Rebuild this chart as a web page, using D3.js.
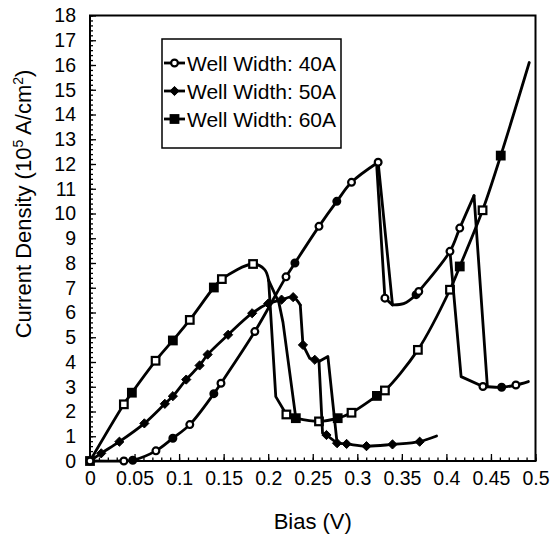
<!DOCTYPE html>
<html>
<head>
<meta charset="utf-8">
<script src="https://cdn.jsdelivr.net/npm/d3@7"></script>
<style>
  html, body { margin: 0; padding: 0; background: #fff; }
  svg { display: block; }
  text { font-family: "Liberation Sans", Arial, Helvetica, sans-serif; fill: #000; }
</style>
</head>
<body>
<svg id="chart" width="553" height="535"></svg>
<script>
// ---------- DATA (bias V, current density 1e5 A/cm2, marker: 0 none, 1 open, 2 filled) ----------
const xTickLabels = [0, 0.05, 0.1, 0.15, 0.2, 0.25, 0.3, 0.35, 0.4, 0.45, 0.5];
const yTickLabels = [0, 1, 2, 3, 4, 5, 6, 7, 8, 9, 10, 11, 12, 13, 14, 15, 16, 17, 18];
const seriesNames = ["Well Width: 40A", "Well Width: 50A", "Well Width: 60A"];

// Well width 40A
const w40Rise = [[0,0,1],[0.038,0.0,1],[0.048,0.03,2],[0.074,0.41,1],[0.093,0.92,2],[0.112,1.47,1],
  [0.139,2.72,2],[0.147,3.14,1],[0.185,5.23,1],[0.220,7.44,1],[0.230,8.0,2],[0.257,9.48,1],
  [0.277,10.49,2],[0.2935,11.26,1],[0.3234,12.07,1]];
const w40DropA = [[0.3234,12.07,0],[0.3395,6.31,0]];
const w40DropB = [[0.3216,12.04,0],[0.331,6.58,1],[0.3395,6.31,0]];
const w40Valley = [[0.3395,6.31,0],[0.352,6.36,0],[0.366,6.72,2],[0.369,6.85,1],[0.404,8.47,1],
  [0.415,9.41,1],[0.431,10.72,0]];
const w40DropC = [[0.431,10.72,0],[0.446,3.0,0]];
const w40DropD = [[0.404,8.47,0],[0.4165,3.41,0],[0.441,3.01,0]];
const w40Tail = [[0.441,3.01,1],[0.462,2.98,2],[0.478,3.07,1],[0.492,3.21,0]];

// Well width 50A
const w50Rise = [[0,0,0],[0.0126,0.31,1],[0.033,0.78,1],[0.061,1.52,1],[0.084,2.31,1],[0.093,2.62,1],
  [0.108,3.29,1],[0.123,3.86,1],[0.132,4.30,1],[0.155,5.10,1],[0.182,5.97,1],[0.200,6.36,1],
  [0.215,6.52,1],[0.228,6.62,1],[0.236,6.30,0]];
const w50Drop = [[0.236,6.30,0],[0.239,4.69,1],[0.2466,4.15,0],[0.2523,4.09,1],[0.257,4.02,0]];
const w50DropA = [[0.257,4.02,0],[0.261,1.12,0],[0.2654,1.05,1],[0.2773,0.72,0]];
const w50DropB = [[0.257,4.02,0],[0.267,4.22,0],[0.2773,0.72,0]];
const w50Tail = [[0.2773,0.72,1],[0.288,0.69,1],[0.3103,0.60,1],[0.3395,0.67,1],[0.370,0.78,1],[0.389,1.01,0]];

// Well width 60A
const w60Rise = [[0,0,2],[0.038,2.29,1],[0.047,2.76,2],[0.0736,4.05,1],[0.093,4.87,2],[0.112,5.70,1],
  [0.139,7.01,2],[0.148,7.35,1],[0.183,7.96,1],[0.196,7.73,0],[0.2005,7.3,0]];
const w60DropA = [[0.2005,7.3,0],[0.2085,2.6,0],[0.2204,1.88,1],[0.231,1.73,0]];
const w60DropB = [[0.2005,7.3,0],[0.212,6.4,0],[0.2166,5.6,0],[0.231,1.73,0]];
const w60Tail = [[0.231,1.73,2],[0.257,1.60,1],[0.278,1.73,2],[0.2935,1.95,1],[0.322,2.63,2],
  [0.331,2.85,1],[0.368,4.49,1],[0.404,6.92,1],[0.415,7.86,2],[0.4406,10.13,1],[0.461,12.34,2],[0.493,16.1,0]];

// ---------- CHART ----------
const series = [
  { name: seriesNames[2], shape: "square", pieces: [
      { pts: w60Rise, smooth: true }, { pts: w60DropA, smooth: false },
      { pts: w60DropB, smooth: false }, { pts: w60Tail, smooth: true } ] },
  { name: seriesNames[1], shape: "diamond", pieces: [
      { pts: w50Rise, smooth: true }, { pts: w50Drop, smooth: false },
      { pts: w50DropA, smooth: false }, { pts: w50DropB, smooth: false }, { pts: w50Tail, smooth: true } ] },
  { name: seriesNames[0], shape: "circle", pieces: [
      { pts: w40Rise, smooth: true }, { pts: w40DropA, smooth: false }, { pts: w40DropB, smooth: false },
      { pts: w40Valley, smooth: true }, { pts: w40DropC, smooth: false }, { pts: w40DropD, smooth: false },
      { pts: w40Tail, smooth: true } ] }
];

const svg = d3.select("#chart");
svg.append("rect").attr("width", 553).attr("height", 535).attr("fill", "#fff");

const plot = { left: 90, right: 535.5, top: 15.5, bottom: 461 };
const x = d3.scaleLinear().domain([0, 0.5]).range([plot.left, plot.right]);
const y = d3.scaleLinear().domain([0, 18]).range([plot.bottom, plot.top]);

// minor ticks
const xMinor = d3.range(0, 51).map(i => i / 100);
const yMinor = d3.range(0, 91).map(i => i / 5);

const xAxisMinor = d3.axisBottom(x).tickValues(xMinor).tickSize(-3.5).tickSizeOuter(0).tickFormat("");
const xAxisMajor = d3.axisBottom(x).tickValues(xTickLabels).tickSize(-7).tickSizeOuter(0).tickPadding(10)
  .tickFormat(d => String(+d.toFixed(2)));
const yAxisMinor = d3.axisLeft(y).tickValues(yMinor).tickSize(-3).tickSizeOuter(0).tickFormat("");
const yAxisMajor = d3.axisLeft(y).tickValues(yTickLabels).tickSize(-6).tickSizeOuter(0).tickPadding(14)
  .tickFormat(d => String(d));

function styleAxis(g) {
  g.select(".domain").remove();
  g.selectAll(".tick line").attr("stroke", "#000").attr("stroke-width", 1.3);
  g.selectAll(".tick text").attr("font-size", 19.5).attr("fill", "#000")
    .attr("font-family", "\"Liberation Sans\", Arial, sans-serif");
}
svg.append("g").attr("transform", `translate(0,${plot.bottom})`).call(xAxisMinor).call(styleAxis);
svg.append("g").attr("transform", `translate(0,${plot.bottom})`).call(xAxisMajor).call(styleAxis);
svg.append("g").attr("transform", `translate(${plot.left},0)`).call(yAxisMinor).call(styleAxis);
svg.append("g").attr("transform", `translate(${plot.left},0)`).call(yAxisMajor).call(styleAxis);

// frame
svg.append("rect")
  .attr("x", plot.left).attr("y", plot.top)
  .attr("width", plot.right - plot.left).attr("height", plot.bottom - plot.top)
  .attr("fill", "none").attr("stroke", "#000").attr("stroke-width", 2);

// axis titles
svg.append("text").attr("x", (plot.left + plot.right) / 2 + 0).attr("y", 529)
  .attr("text-anchor", "middle").attr("font-size", 22).text("Bias (V)");

const yt = svg.append("text")
  .attr("transform", "translate(31,204) rotate(-90)")
  .attr("text-anchor", "middle").attr("font-size", 22);
yt.append("tspan").text("Current Density (10");
yt.append("tspan").attr("dy", -8).attr("font-size", 14).text("5");
yt.append("tspan").attr("dy", 8).text(" A/cm");
yt.append("tspan").attr("dy", -8).attr("font-size", 14).text("2");
yt.append("tspan").attr("dy", 8).text(")");

// markers
function drawMarker(g, shape, cx, cy, filled) {
  const fill = filled ? "#000" : "#fff";
  if (shape === "circle") {
    g.append("circle").attr("cx", cx).attr("cy", cy).attr("r", 3.4)
      .attr("fill", fill).attr("stroke", "#000").attr("stroke-width", 2.2);
  } else if (shape === "square") {
    g.append("rect").attr("x", cx - 3.8).attr("y", cy - 3.8).attr("width", 7.6).attr("height", 7.6)
      .attr("fill", fill).attr("stroke", "#000").attr("stroke-width", 2.2);
  } else {
    const r = 4.6;
    g.append("path").attr("d", `M${cx},${cy - r}L${cx + r},${cy}L${cx},${cy + r}L${cx - r},${cy}Z`)
      .attr("fill", "#000").attr("stroke", "#000").attr("stroke-width", 1);
  }
}

const lineSmooth = d3.line().x(d => x(d[0])).y(d => y(d[1])).curve(d3.curveCatmullRom.alpha(0.5));
const lineStraight = d3.line().x(d => x(d[0])).y(d => y(d[1]));

series.forEach(s => {
  const g = svg.append("g");
  s.pieces.forEach(p => {
    g.append("path").attr("d", (p.smooth ? lineSmooth : lineStraight)(p.pts))
      .attr("fill", "none").attr("stroke", "#000").attr("stroke-width", 2.8)
      .attr("stroke-linejoin", "round").attr("stroke-linecap", "round");
  });
  s.pieces.forEach(p => {
    p.pts.filter(d => d[2] > 0).forEach(d => drawMarker(g, s.shape, x(d[0]), y(d[1]), d[2] === 2));
  });
});

// legend
const leg = { x: 162, y: 39, w: 179, h: 109 };
svg.append("rect").attr("x", leg.x).attr("y", leg.y).attr("width", leg.w).attr("height", leg.h)
  .attr("fill", "#fff").attr("stroke", "#000").attr("stroke-width", 1.5);
const legendItems = [
  { name: seriesNames[0], shape: "circle", filled: false },
  { name: seriesNames[1], shape: "diamond", filled: true },
  { name: seriesNames[2], shape: "square", filled: true }
];
legendItems.forEach((it, i) => {
  const cy = 63 + i * 28;
  const g = svg.append("g");
  g.append("line").attr("x1", 164).attr("x2", 185).attr("y1", cy).attr("y2", cy)
    .attr("stroke", "#000").attr("stroke-width", 2.8);
  drawMarker(g, it.shape, 174.5, cy, it.filled);
  g.append("text").attr("x", 187).attr("y", cy + 7.5).attr("font-size", 21).text(it.name);
});
</script>
</body>
</html>
